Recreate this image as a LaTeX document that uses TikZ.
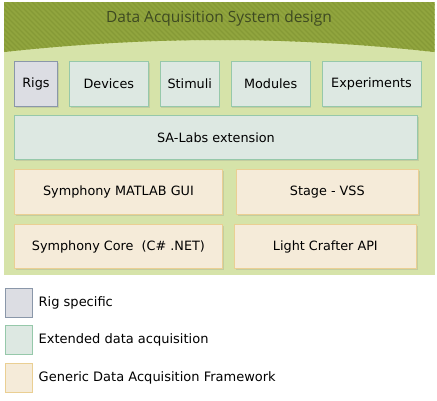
\documentclass[tikz,border=0pt]{standalone}
\usepackage{fontspec}
\setmainfont{DejaVu Sans}
\newfontfamily\titlefont{Open Sans}
\usetikzlibrary{positioning, shadows}
\definecolor{panelgreen}{HTML}{D6E3A9}
\definecolor{headgreen}{HTML}{91A53E}
\definecolor{headstripe}{HTML}{869A36}
\definecolor{titlecol}{HTML}{3E4A22}
\definecolor{rigfill}{HTML}{DCDDE3}
\definecolor{rigline}{HTML}{8A97A9}
\definecolor{extfill}{HTML}{DDE8E2}
\definecolor{extline}{HTML}{96C8AA}
\definecolor{genfill}{HTML}{F5EBD9}
\definecolor{genline}{HTML}{EACF93}
\tikzset{
x=1pt, y=-1pt, % one unit is one pixel of the layout, y runs down
node distance=11pt, % gap between neighbouring blocks
block/.style={draw, line width=0.9pt, minimum height=45pt, inner sep=0pt,
  font=\fontsize{12.8}{15}\selectfont,
  drop shadow={opacity=0.22, shadow xshift=1.2pt, shadow yshift=-1.5pt}}, % every block in the panel
rig/.style={block, fill=rigfill, draw=rigline}, % rig specific
ext/.style={block, fill=extfill, draw=extline}, % extended data acquisition
generic/.style={block, fill=genfill, draw=genline}, % generic framework
key/.style={draw, line width=1pt, minimum width=27pt, minimum height=29pt, inner sep=0pt}, % legend squares
keytext/.style={inner sep=0pt, font=\fontsize{13}{15}\selectfont},
}

\begin{document}
\begin{tikzpicture}
      \useasboundingbox (0,0) rectangle (437,400);
      % panel and header
      \fill[panelgreen] (4,2) rectangle (434.5,275);
      \begin{scope}
        \clip (4,2) -- (434.5,2) -- (434.5,52) .. controls (290,36) and (150,36) .. (4,52) -- cycle;
        \fill[headgreen] (0,0) rectangle (437,60);
        \foreach \x in {-60,-55,...,440}
          \draw[headstripe, line width=1.3pt] (\x,0) -- ++(60,60);
      \end{scope}
      \node[font=\titlefont\fontsize{15.5}{18}\selectfont, text=titlecol] (title) at (219,18) {Data Acquisition System design};
      % top row
      \node[rig, minimum width=43pt, anchor=north west] (rigs) at (14,61) {Rigs};
      \node[ext, minimum width=79pt, right=of rigs] (devices) {Devices};
      \node[ext, minimum width=59pt, right=of devices] (stimuli) {Stimuli};
      \node[ext, minimum width=79pt, right=of stimuli] (modules) {Modules};
      \node[ext, minimum width=99pt, right=of modules] (experiments) {Experiments};
      % extension
      \node[ext, minimum width=403pt, minimum height=44pt, below=8.5pt of rigs.south west, anchor=north west] (salabs) {SA-Labs extension};
      % framework
      \node[generic, minimum width=208pt, below=9pt of salabs.south west, anchor=north west] (matlabgui) {Symphony MATLAB GUI};
      \node[generic, minimum width=182pt, right=13pt of matlabgui] (stage) {Stage - VSS};
      \node[generic, minimum width=208pt, minimum height=44pt, below=9pt of matlabgui] (core) {Symphony Core \ (C\# .NET)};
      \node[generic, minimum width=182pt, minimum height=44pt, right=11pt of core] (lightcrafter) {Light Crafter API};
      % legend
      \node[key, fill=rigfill, draw=rigline] (keyrig) at (18.5,302.5) {};
      \node[key, fill=extfill, draw=extline] (keyext) at (18.5,340) {};
      \node[key, fill=genfill, draw=genline] (keygen) at (18.5,378) {};
      \node[keytext, right=6pt of keyrig] (keyrigtext) {Rig specific};
      \node[keytext, right=6pt of keyext] (keyexttext) {Extended data acquisition};
      \node[keytext, right=6pt of keygen] (keygentext) {Generic Data Acquisition Framework};
    \end{tikzpicture}
\end{document}
